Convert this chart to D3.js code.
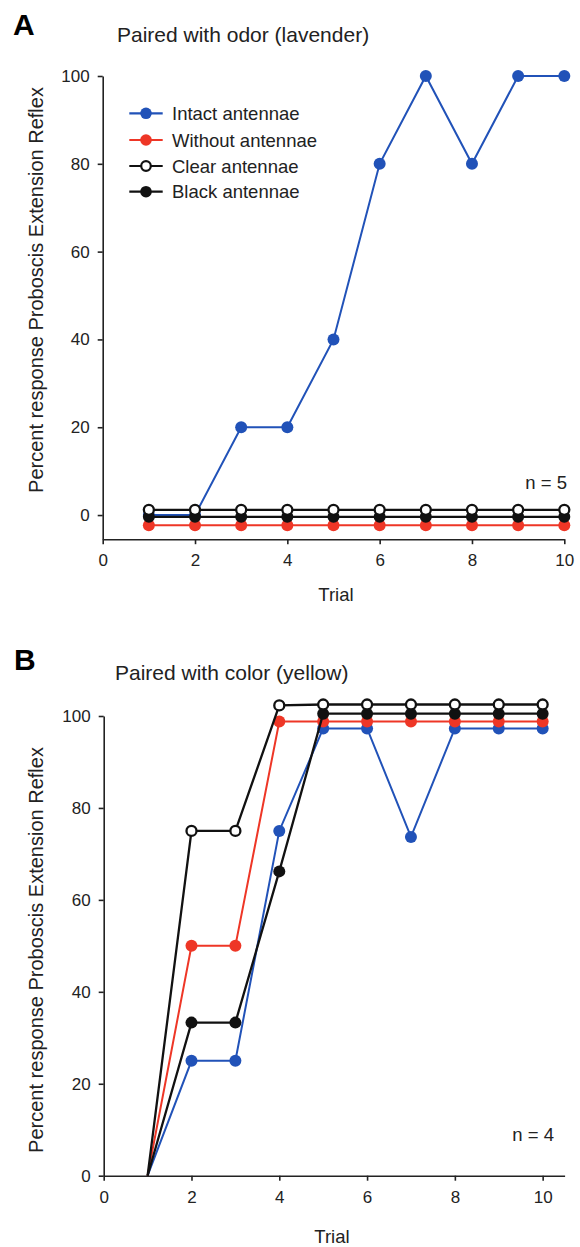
<!DOCTYPE html>
<html>
<head>
<meta charset="utf-8">
<script src="https://cdn.jsdelivr.net/npm/d3@7"></script>
<style>
body { margin: 0; background: #fff; }
svg text { font-family: "Liberation Sans", Arial, sans-serif; fill: #222; }
</style>
</head>
<body>
<div id="chart"></div>
<script>
// trials on the x axis
const trials = [1, 2, 3, 4, 5, 6, 7, 8, 9, 10];
const xTicks = [0, 2, 4, 6, 8, 10];
const yTicks = [0, 20, 40, 60, 80, 100];

const seriesNames = ["Intact antennae", "Without antennae", "Clear antennae", "Black antennae"];

// A: paired with odor (flat series are drawn slightly offset in the original)
const odorIntact  = [0, 0, 20, 20, 40, 80, 100, 80, 100, 100];
const odorWithout = [-2.3, -2.3, -2.3, -2.3, -2.3, -2.3, -2.3, -2.3, -2.3, -2.3];
const odorClear   = [1.2, 1.2, 1.2, 1.2, 1.2, 1.2, 1.2, 1.2, 1.2, 1.2];
const odorBlack   = [-0.4, -0.4, -0.4, -0.4, -0.4, -0.4, -0.4, -0.4, -0.4, -0.4];

// B: paired with color
const colorIntact  = [0, 25, 25, 75, 97.3, 97.3, 73.7, 97.3, 97.3, 97.3];
const colorWithout = [0, 50, 50, 98.8, 98.8, 98.8, 98.8, 98.8, 98.8, 98.8];
const colorClear   = [0, 75, 75, 102.3, 102.5, 102.5, 102.5, 102.5, 102.5, 102.5];
const colorBlack   = [0, 33.3, 33.3, 66.2, 100.5, 100.5, 100.5, 100.5, 100.5, 100.5];

const width = 580;
const height = 1247;

const strokeCol = ["#2152b8", "#ee3626", "#111", "#111"];
const fillCol = ["#2152b8", "#ee3626", "#fff", "#111"];
const drawOrder = [0, 1, 3, 2]; // clear on top

const svg = d3.select("#chart")
    .append("svg")
    .attr("width", width)
    .attr("height", height);

function drawPanel(p) {
    const g = svg.append("g");

    const x = d3.scaleLinear().domain(p.xDomain).range(p.xRange);
    const y = d3.scaleLinear().domain(p.yDomain).range(p.yRange);

    // axes
    const xAx = g.append("g")
        .attr("transform", `translate(0,${p.xAxisY})`)
        .call(d3.axisBottom(x).tickValues(xTicks).tickSize(5).tickSizeOuter(0).tickPadding(10));
    const yAx = g.append("g")
        .attr("transform", `translate(${p.xRange[0]},0)`)
        .call(d3.axisLeft(y).tickValues(yTicks).tickSize(5).tickSizeOuter(0).tickPadding(8));
    [xAx, yAx].forEach(a => {
        a.attr("font-size", null).attr("font-family", null);
        a.selectAll("path, line").attr("stroke", "#222").attr("stroke-width", 1.6);
        a.selectAll("text").style("font-size", "17px");
    });

    // lines + markers
    const line = d3.line().x((d, i) => x(trials[i])).y(d => y(d));
    drawOrder.forEach(k => {
        const vals = p.series[k];
        g.append("path")
            .datum(vals)
            .attr("fill", "none")
            .attr("stroke", strokeCol[k])
            .attr("stroke-width", k >= 2 ? 2.3 : 2)
            .attr("d", line);
        g.selectAll(null)
            .data(vals.map((v, i) => ({t: trials[i], v: v})).filter(d => d.t >= p.markerStart))
            .join("circle")
            .attr("cx", d => x(d.t))
            .attr("cy", d => y(d.v))
            .attr("r", k == 2 ? 5 : 6)
            .attr("fill", fillCol[k])
            .attr("stroke", strokeCol[k])
            .attr("stroke-width", k == 2 ? 2.3 : 0);
    });

    // labels
    g.append("text")
        .attr("x", p.letterPos[0]).attr("y", p.letterPos[1])
        .style("font-size", "30px").style("font-weight", "bold").style("fill", "#000")
        .text(p.letter);
    g.append("text")
        .attr("x", p.titlePos[0]).attr("y", p.titlePos[1])
        .style("font-size", "21px")
        .text(p.title);
    g.append("text")
        .attr("transform", `translate(43,${p.yLabelY}) rotate(-90)`)
        .attr("text-anchor", "middle")
        .style("font-size", "20px")
        .text("Percent response Proboscis Extension Reflex");
    g.append("text")
        .attr("x", p.trialPos[0]).attr("y", p.trialPos[1])
        .attr("text-anchor", "middle")
        .style("font-size", "18.5px")
        .text("Trial");
    g.append("text")
        .attr("x", p.nPos[0]).attr("y", p.nPos[1])
        .attr("text-anchor", "end")
        .style("font-size", "18.5px")
        .text(p.nLabel);
}

drawPanel({
    letter: "A", letterPos: [13, 35],
    title: "Paired with odor (lavender)", titlePos: [117, 42],
    xDomain: [0, 10], xRange: [102.7, 564.3],
    yDomain: [-5.5, 100], yRange: [539.2, 76],
    xAxisY: 539.2,
    series: [odorIntact, odorWithout, odorClear, odorBlack],
    markerStart: 1,
    yLabelY: 290, trialPos: [336, 601],
    nLabel: "n = 5", nPos: [567, 489]
});

drawPanel({
    letter: "B", letterPos: [14, 670],
    title: "Paired with color (yellow)", titlePos: [115, 680],
    xDomain: [0, 10.5], xRange: [103.7, 564.6],
    yDomain: [0, 100], yRange: [1175.7, 716],
    xAxisY: 1175.7,
    series: [colorIntact, colorWithout, colorClear, colorBlack],
    markerStart: 2,
    yLabelY: 950, trialPos: [332, 1243],
    nLabel: "n = 4", nPos: [554, 1141]
});

// legend (panel A only)
const legend = svg.append("g");
const legendY = [113.3, 140, 166, 191.7];
seriesNames.forEach((name, k) => {
    legend.append("line")
        .attr("x1", 129.3).attr("x2", 162.7)
        .attr("y1", legendY[k]).attr("y2", legendY[k])
        .attr("stroke", strokeCol[k]).attr("stroke-width", 2.2);
    legend.append("circle")
        .attr("cx", 146).attr("cy", legendY[k])
        .attr("r", k == 2 ? 4.8 : 5.8)
        .attr("fill", fillCol[k]).attr("stroke", strokeCol[k])
        .attr("stroke-width", k == 2 ? 2.2 : 0);
    legend.append("text")
        .attr("x", 172).attr("y", legendY[k])
        .attr("dy", "0.36em")
        .style("font-size", "18.5px")
        .text(name);
});
</script>
</body>
</html>
